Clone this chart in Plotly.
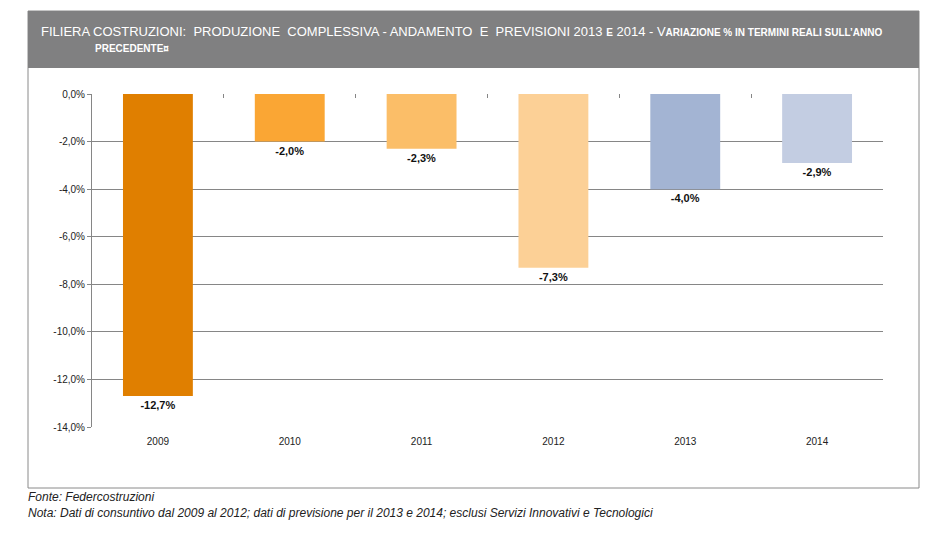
import plotly.graph_objects as go

anni = ["2009", "2010", "2011", "2012", "2013", "2014"]
variazione = [-12.7, -2.0, -2.3, -7.3, -4.0, -2.9]
colori = ["#E07F00", "#FAA634", "#FBBE68", "#FCD096", "#A3B4D3", "#C3CDE2"]
y_ticks = [0, -2, -4, -6, -8, -10, -12, -14]
y_labels = [("%.1f%%" % v).replace(".", ",") for v in y_ticks]

# la pagina ha un margine di 8px: le coordinate in pixel sono quelle dello screenshot
OFF = 8
W, H = 942, 536
L, R, T, B = 92 - OFF, W - 883 + OFF, 94 - OFF, H - 427 + OFF
PW, PH = W - L - R, H - T - B


def px_x(p):
    return (p - OFF - L) / PW


def px_y(p):
    return (H - B - (p - OFF)) / PH


narrow = "Liberation Sans Narrow, Arial Narrow, Liberation Sans, sans-serif"
small = "<span style='font-size:10px'><b>%s</b></span>"

titolo1 = ("FILIERA COSTRUZIONI:  PRODUZIONE  COMPLESSIVA - ANDAMENTO  E  PREVISIONI 2013 "
           + small % "E" + " 2014 - V" + small % "ARIAZIONE % IN TERMINI REALI SULL\u2019ANNO")
titolo2 = small % "PRECEDENTE\u00a4"

fig = go.Figure()
fig.add_trace(go.Bar(
    x=anni, y=variazione,
    marker=dict(color=colori, line=dict(width=0)),
    text=[("%.1f%%" % v).replace(".", ",") for v in variazione],
    texttemplate="<b>%{text}</b>", textposition="outside",
    textfont=dict(family="Liberation Sans, Arial", size=11, color="#111111"),
    cliponaxis=False, hoverinfo="skip",
))
# trace invisibile per le tacche in alto sull'asse delle categorie
fig.add_trace(go.Bar(x=anni, y=variazione, xaxis="x2", opacity=0,
                     hoverinfo="skip", showlegend=False))

fig.update_layout(
    width=W, height=H,
    margin=dict(l=L, r=R, t=T, b=B),
    paper_bgcolor="white", plot_bgcolor="white",
    showlegend=False, bargap=0.47,
    font=dict(family="Liberation Sans, Arial", size=10, color="#222222"),
    xaxis=dict(type="category", showgrid=False, ticks="outside", ticklen=5,
               tickcolor="rgba(0,0,0,0)", showline=False,
               tickfont=dict(size=10), fixedrange=True),
    xaxis2=dict(type="category", overlaying="x", side="top", matches="x",
                showticklabels=False, ticks="inside", ticklen=4, tickcolor="#868686",
                tickson="boundaries", showgrid=False, showline=False),
    yaxis=dict(range=[-14, 0], tickvals=y_ticks, ticktext=y_labels,
               showgrid=True, gridcolor="#868686", gridwidth=1,
               showline=True, linecolor="#868686", linewidth=1,
               ticks="outside", ticklen=4, tickcolor="#868686",
               zeroline=False, tickfont=dict(size=10)),
    shapes=[
        dict(type="rect", xref="paper", yref="paper", layer="below",
             x0=px_x(28), x1=px_x(919), y0=px_y(488), y1=px_y(11),
             line=dict(color="#8a8a8a", width=1), fillcolor="white"),
        dict(type="rect", xref="paper", yref="paper", layer="below",
             x0=px_x(28), x1=px_x(919), y0=px_y(68), y1=px_y(11),
             line=dict(width=0), fillcolor="#808081"),
    ],
    annotations=[
        dict(text=titolo1, xref="paper", yref="paper", x=px_x(39), y=px_y(32),
             xanchor="left", yanchor="middle", showarrow=False,
             font=dict(family=narrow, size=13, color="white")),
        dict(text=titolo2, xref="paper", yref="paper", x=px_x(93), y=px_y(48),
             xanchor="left", yanchor="middle", showarrow=False,
             font=dict(family=narrow, size=13, color="white")),
        dict(text="<i>Fonte: Federcostruzioni</i>", xref="paper", yref="paper",
             x=px_x(26), y=px_y(497), xanchor="left", yanchor="middle", showarrow=False,
             font=dict(family=narrow, size=12, color="#222222")),
        dict(text="<i>Nota: Dati di consuntivo dal 2009 al 2012; dati di previsione per il 2013 e 2014; "
                  "esclusi Servizi Innovativi e Tecnologici</i>",
             xref="paper", yref="paper", x=px_x(26), y=px_y(513),
             xanchor="left", yanchor="middle", showarrow=False,
             font=dict(family=narrow, size=12, color="#222222")),
    ],
)

fig.write_html("out.html")
